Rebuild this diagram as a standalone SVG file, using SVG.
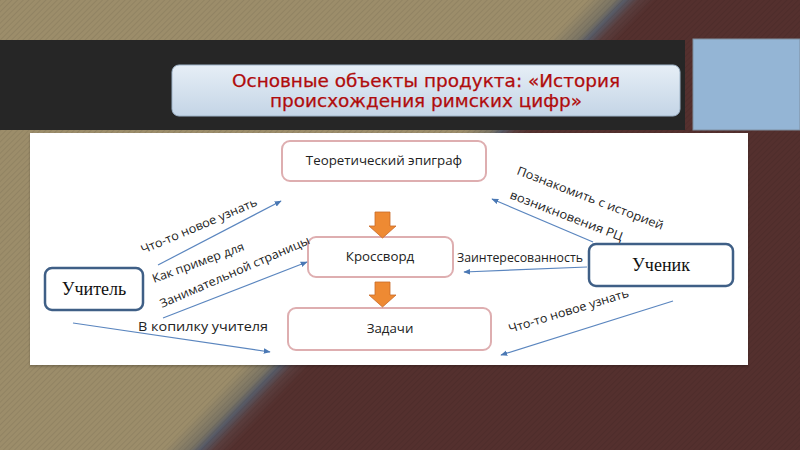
<svg xmlns="http://www.w3.org/2000/svg" width="800" height="450" viewBox="0 0 800 450">
<defs>
<linearGradient id="bg" gradientUnits="userSpaceOnUse" x1="391" y1="208" x2="427" y2="242">
<stop offset="0" stop-color="#9c8d6a"/>
<stop offset="0.4" stop-color="#7a7464"/>
<stop offset="0.55" stop-color="#575a66"/>
<stop offset="0.75" stop-color="#5a3e3e"/>
<stop offset="1" stop-color="#54302e"/>
</linearGradient>
<pattern id="hatch" width="4" height="4" patternUnits="userSpaceOnUse" patternTransform="rotate(45)">
<rect width="1" height="4" fill="#000" opacity="0.07"/>
</pattern>
<linearGradient id="tb" x1="0" y1="0" x2="0" y2="1">
<stop offset="0" stop-color="#e6eef6"/>
<stop offset="1" stop-color="#c4d5e6"/>
</linearGradient>
<marker id="ah" viewBox="0 0 10 10" refX="9" refY="5" markerWidth="7" markerHeight="7" orient="auto" markerUnits="userSpaceOnUse">
<path d="M0,1 L10,5 L0,9 Z" fill="#4a78b4"/>
</marker>
<filter id="sh" x="-10%" y="-10%" width="120%" height="130%">
<feDropShadow dx="0" dy="1.5" stdDeviation="1.2" flood-color="#000" flood-opacity="0.25"/>
</filter>
</defs>
<style>
.conn line{stroke:#5b86bf;stroke-width:1.2;marker-end:url(#ah)}
.pbox{fill:#fff;stroke:#deaeb0;stroke-width:2}
.bbox{fill:#fff;stroke:#3f5f86;stroke-width:2.5}
.lbl{font-family:"Open Sans","Liberation Sans",sans-serif;font-size:12px;fill:#222}
.ntx{font-family:"Open Sans","Liberation Sans",sans-serif;font-size:13.3px;fill:#222;text-anchor:middle}
.stx{font-family:"Liberation Serif",serif;font-size:18px;fill:#111;text-anchor:middle}
.arr{fill:#ee8a33;stroke:#c8692a;stroke-width:0.8}
.ttl{font-family:"DejaVu Sans",sans-serif;font-size:17px;fill:#b00c0c;stroke:#b00c0c;stroke-width:0.25;text-anchor:middle}
</style>
<rect width="800" height="450" fill="url(#bg)"/>
<rect width="800" height="450" fill="url(#hatch)"/>
<rect x="0" y="40" width="685" height="90" fill="#262626"/>
<rect x="693" y="39" width="107" height="91" fill="#94b5d5" stroke="#7f8fa0" stroke-width="1"/>
<g id="title">
<rect x="172" y="65" width="508" height="51" rx="7" fill="url(#tb)" stroke="#9fb4c9" stroke-width="1"/>
<text class="ttl" x="426" y="87" textLength="388" lengthAdjust="spacingAndGlyphs">Основные объекты продукта: «История</text>
<text class="ttl" x="426" y="107" textLength="312" lengthAdjust="spacingAndGlyphs">происхождения римских цифр»</text>
</g>
<rect x="30" y="133" width="718" height="232" fill="#fff" filter="url(#sh)"/>
<g id="n-epigraf">
<rect class="pbox" x="282" y="141" width="204" height="40" rx="8"/>
<text class="ntx" x="384" y="165">Теоретический эпиграф</text>
</g>
<g id="n-krossvord">
<rect class="pbox" x="308" y="237" width="145" height="40" rx="8"/>
<text class="ntx" x="380" y="261">Кроссворд</text>
</g>
<g id="n-zadachi">
<rect class="pbox" x="288" y="308" width="203" height="42" rx="8"/>
<text class="ntx" x="390" y="333">Задачи</text>
</g>
<g id="n-uchitel">
<rect class="bbox" x="45" y="268" width="98" height="42" rx="7"/>
<text class="stx" x="94" y="295">Учитель</text>
</g>
<g id="n-uchenik">
<rect class="bbox" x="589" y="244" width="144" height="42" rx="7"/>
<text class="stx" x="661" y="271">Ученик</text>
</g>
<g id="block-arrows">
<path class="arr" d="M375,212 H390 V226 H396 L382.5,238 L369,226 H375 Z"/>
<path class="arr" d="M375,282 H390 V295 H396 L382.5,307 L369,295 H375 Z"/>
</g>
<g id="connectors" class="conn">
<line x1="158" y1="265" x2="281" y2="201"/>
<line x1="163" y1="318" x2="307" y2="262"/>
<line x1="73" y1="323" x2="270" y2="352"/>
<line x1="593" y1="242" x2="492" y2="199"/>
<line x1="587" y1="267" x2="464" y2="272"/>
<line x1="673" y1="301" x2="501" y2="355"/>
</g>
<g id="labels">
<text class="lbl" transform="translate(143,254) rotate(-23)" textLength="125" lengthAdjust="spacingAndGlyphs">Что-то новое узнать</text>
<text class="lbl" transform="translate(154,283) rotate(-20)" textLength="97" lengthAdjust="spacingAndGlyphs">Как пример для</text>
<text class="lbl" transform="translate(162,308) rotate(-23.5)" textLength="162" lengthAdjust="spacingAndGlyphs">Занимательной страницы</text>
<text class="lbl" x="138" y="331" textLength="130" lengthAdjust="spacingAndGlyphs">В копилку учителя</text>
<text class="lbl" x="457" y="262" textLength="126" lengthAdjust="spacingAndGlyphs">Заинтересованность</text>
<text class="lbl" transform="translate(516,174) rotate(21)" textLength="156" lengthAdjust="spacingAndGlyphs">Познакомить с историей</text>
<text class="lbl" transform="translate(509,198) rotate(21)" textLength="120" lengthAdjust="spacingAndGlyphs">возникновения РЦ</text>
<text class="lbl" transform="translate(510,333) rotate(-17)" textLength="125" lengthAdjust="spacingAndGlyphs">Что-то новое узнать</text>
</g>
</svg>
